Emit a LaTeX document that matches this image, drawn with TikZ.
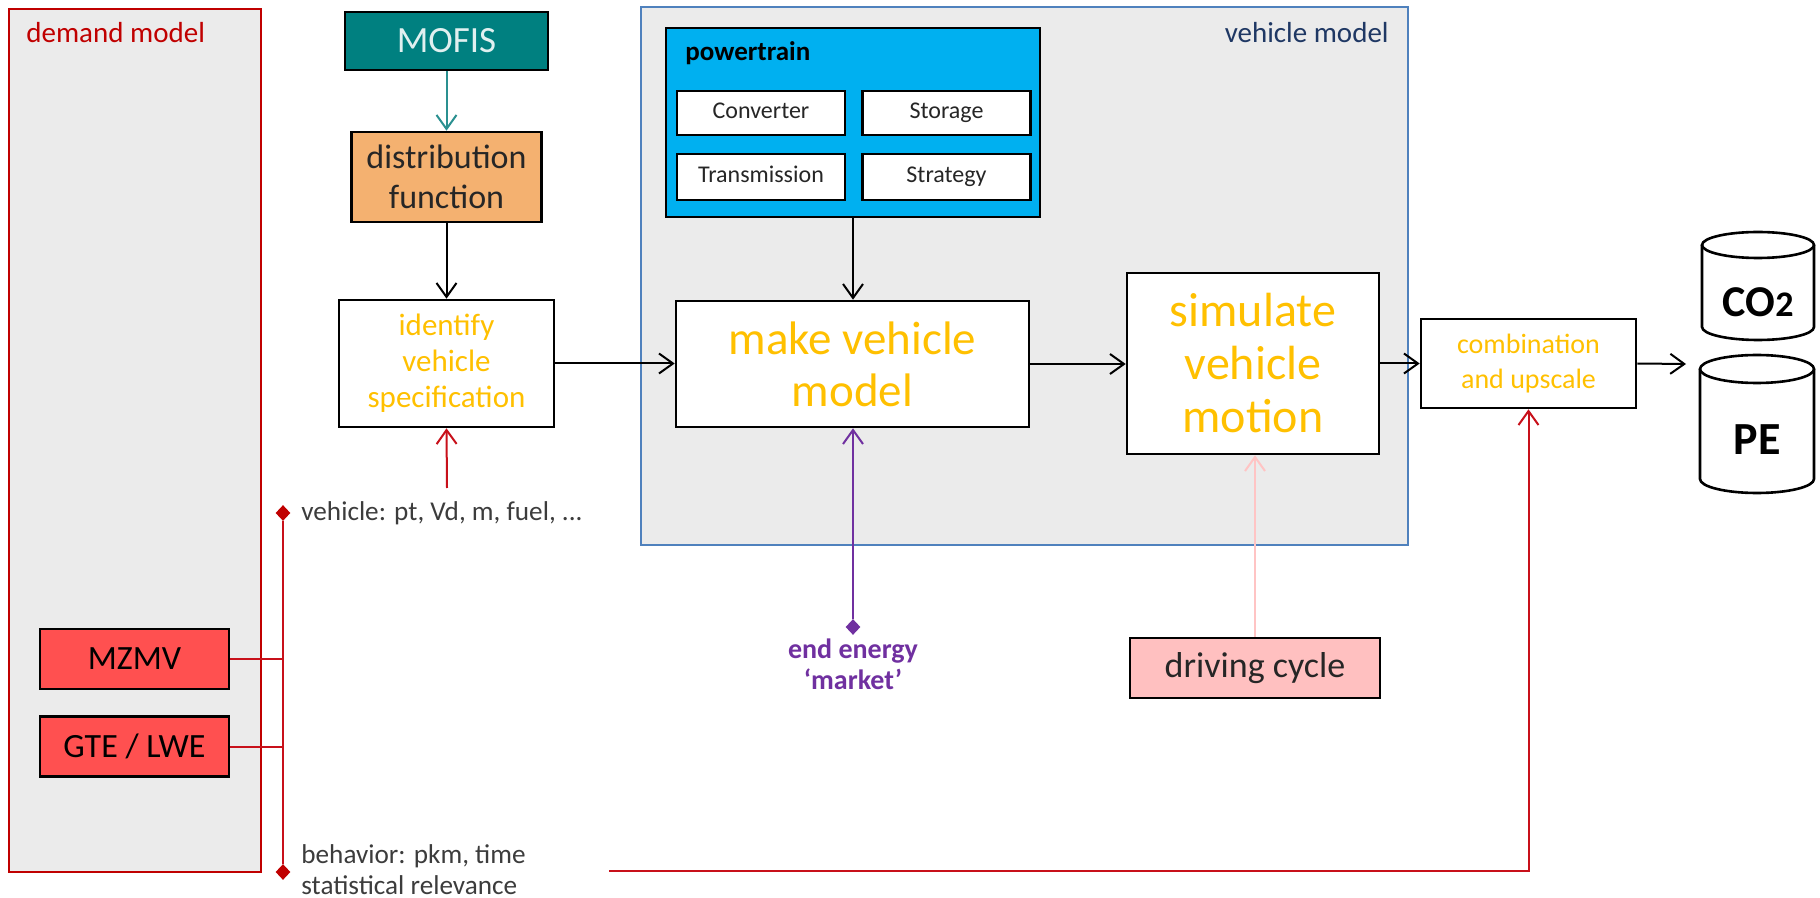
\documentclass[tikz,border=0pt]{standalone}
\usepackage{fontspec}
\setmainfont{Carlito}
\usetikzlibrary{arrows.meta,shapes.geometric}

\definecolor{yel}{HTML}{FFC000}
\definecolor{demred}{HTML}{C00000}
\definecolor{lnred}{HTML}{C8101A}
\definecolor{vmblue}{HTML}{4F81BD}
\definecolor{panel}{HTML}{EBEBEB}
\definecolor{mofis}{HTML}{008080}
\definecolor{tealarrow}{HTML}{2A9090}
\definecolor{distfill}{HTML}{F4B170}
\definecolor{ptblue}{HTML}{00B0F0}
\definecolor{srcred}{HTML}{FF5050}
\definecolor{energy}{HTML}{7030A0}
\definecolor{cycfill}{HTML}{FFC0C0}
\definecolor{cycline}{HTML}{FFC4C4}
\definecolor{navy}{HTML}{1F3864}
\definecolor{labgray}{HTML}{3C3C3C}

\newcommand\fsz[2]{\fontsize{#1}{#2}\selectfont}

\tikzset{
  box/.style={draw=black, line width=1.3pt, fill=white, inner sep=0pt, align=center},
  part/.style={box, line width=1.2pt, minimum width=84pt, minimum height=22pt,
               text height=8.5pt, text depth=2.5pt, text=black!85, font=\fsz{12}{14}},
  src/.style={box, fill=srcred, minimum width=94.5pt, minimum height=30pt,
              text=black, font=\fsz{17}{20}},
  flow/.style={line width=1pt, -{Straight Barb[length=7pt,width=10pt]}},
  redline/.style={draw=lnred, line width=1pt},
  tap/.style={diamond, inner sep=0pt, minimum width=7.5pt, minimum height=8pt},
  store/.style={line width=1.3pt, fill=white},
}

\begin{document}
\begin{tikzpicture}[x=0.5pt, y=-0.5pt]
\useasboundingbox (0,0) rectangle (1820,898);

% grey panels of the two sub-models
\draw[demred, line width=0.7pt, fill=panel] (9,9) rectangle (261,872);
\draw[vmblue, line width=0.7pt, fill=panel] (641,7) rectangle (1408,545);
\node[anchor=west, text=demred, font=\fsz{14.5}{17}, inner sep=0pt] (demlab) at (26,33) {demand model};
\node[anchor=east, text=navy, font=\fsz{14.5}{17}, inner sep=0pt] (vmlab) at (1389,33) {vehicle model};

% powertrain block with its four parts
\node[box, fill=ptblue, minimum width=187pt, minimum height=94.5pt] (pt) at (853,122.5) {};
\node[anchor=west, font=\bfseries\fsz{13.5}{16}, inner sep=0pt] (ptlab) at (685,53) {powertrain};
\node[part] (conv) at (761,113) {Converter};
\node[part] (stor) at (946.5,113) {Storage};
\node[part, minimum height=23pt] (trans) at (761,177) {Transmission};
\node[part, minimum height=23pt] (strat) at (946.5,177) {Strategy};

% main process chain
\node[box, fill=mofis, minimum width=101.5pt, minimum height=29pt,
      text=white!88!mofis, font=\fsz{18.5}{21}] (mofis) at (446.5,41) {MOFIS};
\node[box, fill=distfill, minimum width=95pt, minimum height=45pt,
      text=black!85, font=\fsz{17}{20}] (dist) at (446.5,177) {distribution\\function};
\node[box, minimum width=107.5pt, minimum height=63.5pt,
      text=yel, font=\fsz{15.5}{18}] (ident) at (446.5,363.5) {identify\\vehicle\\specification};
\node[box, minimum width=176.5pt, minimum height=63pt,
      text=yel, font=\fsz{23.5}{26}] (make) at (852.5,364) {make vehicle\\model};
\node[box, minimum width=126pt, minimum height=90.5pt,
      text=yel, font=\fsz{24}{26.5}] (sim) at (1253,363.5) {simulate\\vehicle\\motion};
\node[box, minimum width=107.5pt, minimum height=44.5pt,
      text=yel, font=\fsz{14}{17.5}] (comb) at (1528.5,363.5) {combination\\and upscale};

% demand data sources
\node[src] (mzmv) at (134.5,659) {MZMV};
\node[src] (gte) at (134.5,746.5) {GTE / LWE};

% driving cycle and energy market inputs
\node[box, fill=cycfill, minimum width=125pt, minimum height=30pt,
      text=black!85, font=\fsz{18}{21}] (cyc) at (1255,668) {driving cycle};
\node[tap, fill=energy] (ee) at (853,627) {};
\node[anchor=north, align=center, text=energy, font=\bfseries\fsz{14}{15.5}, inner sep=0pt] (eelab) at (853,638) {end energy\\‘market’};

% result stores (cylinders)
\draw[store] (1702,245) -- (1702,327) arc[start angle=180, end angle=360, x radius=28pt, y radius=6.5pt] -- (1814,245);
\draw[store] (1758,245) ellipse[x radius=28pt, y radius=6.5pt];
\draw[store] (1700,369) -- (1700,479) arc[start angle=180, end angle=360, x radius=28.5pt, y radius=7pt] -- (1814,369);
\draw[store] (1757,369) ellipse[x radius=28.5pt, y radius=7pt];
\node[font=\bfseries\fsz{22}{24}, inner sep=0pt] (co2) at (1758,302) {CO{\fsz{18}{20}2}};
\node[font=\bfseries\fsz{23}{25}, inner sep=0pt] (pe) at (1757,440) {PE};

% data bus of the demand model
\node[tap, fill=demred] (dtop) at (283,513) {};
\node[tap, fill=demred] (dbot) at (283,872) {};
\node[anchor=west, text=labgray, font=\fsz{13.6}{16}, inner sep=0pt] (vehlab) at (301,513) {vehicle: pt, Vd, m, fuel, ...};
\node[anchor=west, align=left, text=labgray, font=\fsz{13.6}{15.5}, inner sep=0pt] (behlab) at (301,870) {behavior: pkm, time\\statistical relevance};
\coordinate (vin) at (447,488);
\coordinate (bhv) at (609,871);
\coordinate (out) at (1686,364);

% connectors
\draw[flow, tealarrow] (mofis) -- (dist);
\draw[flow] (dist) -- (ident);
\draw[flow] (pt.south) -- (pt.south |- make.north);
\draw[flow] (ident.east) -- (ident.east -| make.west);
\draw[flow] (make.east) -- (make.east -| sim.west);
\draw[flow] (sim.east) -- (sim.east -| comb.west);
\draw[flow] (comb.east) -- (out);
\draw[flow, lnred] (vin) -- (ident.south);
\draw[flow, energy] (ee) -- (ee |- make.south);
\draw[flow, cycline] (cyc.north) -- (cyc.north |- sim.south);
\draw[redline] (dtop) -- (dbot);
\draw[redline] (mzmv.east) -- (mzmv.east -| dtop);
\draw[redline] (gte.east) -- (gte.east -| dtop);
\draw[flow, lnred] (bhv) -| (comb.south);
\end{tikzpicture}
\end{document}
